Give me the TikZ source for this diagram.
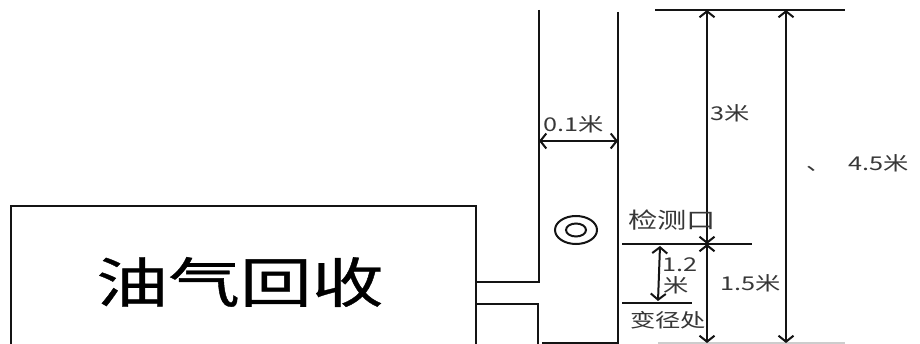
\documentclass[tikz,border=0pt]{standalone}
\usepackage{fontspec}
\usepackage{graphicx}
\setmainfont{Noto Sans CJK SC}
\newfontfamily\boldcjk[FakeBold=0.6]{Noto Sans CJK SC}
\usetikzlibrary{arrows.meta}
\definecolor{ink}{RGB}{20,20,20}
\definecolor{faint}{RGB}{205,205,205}
\definecolor{labelgray}{RGB}{55,55,55}
\newcommand{\wide}[1]{\scalebox{1.33}[1]{#1}}
\newcommand{\drawthick}{\draw[line width=2pt,color=ink]}
\newcommand{\dimarrow}[2]{\draw[line width=2pt,color=ink,{Straight Barb[length=6pt,width=15pt]}-{Straight Barb[length=6pt,width=15pt]}] (#1)--(#2);}
\newcommand{\dimlabel}[3]{\node[text=labelgray,inner sep=0pt] (#1) at (#2) {\wide{#3}};}
\begin{document}
\begin{tikzpicture}[x=1pt,y=-1pt,font=\fontsize{19}{21}\selectfont]
\useasboundingbox[fill=white] (0,0) rectangle (920,344);
\drawthick (11,344)--(11,206)--(476,206)--(476,344);
\node[inner sep=0pt,font=\boldcjk\fontsize{54}{60}\selectfont] (recovery) at (240,282) {\wide{油气回收}};
\drawthick (539,10)--(539,282)--(476,282);
\drawthick (476,304)--(538,304)--(538,344);
\drawthick (618,12)--(618,344);
\drawthick (542,342.5)--(617,342.5);
\drawthick (576,230) ellipse [x radius=21, y radius=14];
\drawthick (576,230) ellipse [x radius=10, y radius=6.5];
\coordinate (wallL) at (539,141);\coordinate (wallR) at (618,141);
\coordinate (topA) at (707,10);\coordinate (midA) at (707,244);\coordinate (botA) at (707,343);
\coordinate (topB) at (786,10);\coordinate (botB) at (786,343);
\coordinate (portS) at (660,246);\coordinate (reduceS) at (658,301);
\drawthick (655,10)--(845,10);
\drawthick (622,244)--(752,244);
\drawthick (622,303)--(692,303);
\draw[line width=2pt,color=faint] (658,343)--(845,343);
\dimarrow{wallL}{wallR}\dimarrow{topA}{midA}\dimarrow{midA}{botA}\dimarrow{topB}{botB}\dimarrow{portS}{reduceS}
\dimlabel{width}{574,124}{0.1米}\dimlabel{upper}{730,113}{3米}\dimlabel{comma}{819,169}{、}\dimlabel{total}{879,163}{4.5米}
\node[text=labelgray,inner sep=0pt,font=\fontsize{22}{24}\selectfont] (port) at (672,220) {\wide{检测口}};
\dimlabel{shortnum}{680,265}{1.2}\dimlabel{shortunit}{676,285}{米}\dimlabel{lower}{751,283}{1.5米}\dimlabel{reducer}{668,320}{变径处}
\end{tikzpicture}
\end{document}
